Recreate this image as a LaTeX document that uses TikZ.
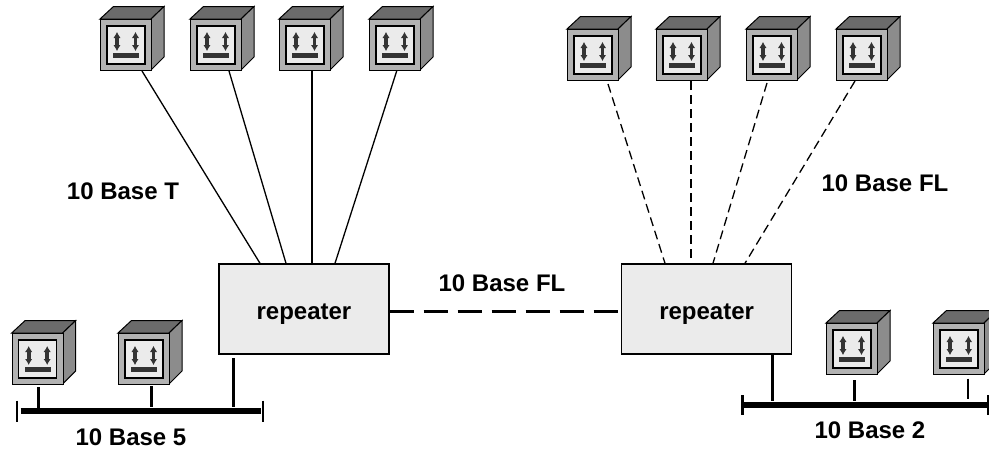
\documentclass[tikz,border=0pt]{standalone}
\usepackage{fontspec}
\setmainfont{Liberation Sans}
\usetikzlibrary{arrows.meta,positioning}
\definecolor{pcfront}{gray}{0.70}
\definecolor{pctop}{gray}{0.42}
\definecolor{pcside}{gray}{0.55}
\definecolor{pcscreen}{gray}{0.92}
\definecolor{pcdark}{gray}{0.20}
\tikzset{
	lbl/.style={font=\fontsize{24}{28}\bfseries\selectfont,inner sep=0pt},
	repeaterbox/.style={draw,line width=1.3pt,fill=pcscreen,minimum width=170pt,minimum height=90pt,inner sep=0pt,text height=22pt,text depth=0pt,font=\fontsize{24}{28}\bfseries\selectfont},
	link/.style={line width=1.3pt},
	fibre/.style={line width=1.3pt,dash pattern=on 9pt off 5pt},
	trunk/.style={line width=2.6pt,dash pattern=on 24pt off 10pt},
	bus/.style={line width=6pt},
	stub/.style={line width=2.5pt},
	updown/.style={{Latex[length=6pt,width=7.5pt]}-{Latex[length=6pt,width=7.5pt]},line width=3.6pt,pcdark},
	pcbox/.pic={
		\draw[line width=1pt,fill=pctop] (0,0) -- (13.5,-12.5) -- (64,-12.5) -- (51,0) -- cycle;
		\draw[line width=1pt,fill=pcside] (51,0) -- (64,-12.5) -- (64,38) -- (51,51) -- cycle;
		\node[draw,line width=1pt,fill=pcfront,minimum size=51pt,inner sep=0pt,anchor=north west] (face) at (0,0) {};
		\draw[line width=1.1pt,fill=pcscreen] (7,7) rectangle (45,45);
		\draw[updown] (17,13) -- (17,32);
		\draw[updown] (35.5,13) -- (35.5,32);
		\fill[pcdark] (13,34) rectangle (39,39);
	}
}
\begin{document}
\begin{tikzpicture}[x=1pt,y=-1pt]
	\useasboundingbox (0,0) rectangle (989,455);
	% computers
	\foreach \n/\x/\y in {a/100/19,b/190/19,c/279/19,d/369/19,e/567/29,f/656/29,g/746/29,h/836/29,i/11.7/333,j/118/333,k/826/323,l/933/323}
		\pic (pc\n) at (\x,\y) {pcbox};
	% repeaters
	\node[repeaterbox,anchor=north west] (repl) at (218.3,263.3) {repeater};
	\node[repeaterbox,anchor=north west] (repr) at (621,263.3) {repeater};
	% twisted pair
	\foreach \n/\s/\e in {a/42/41.7,b/39/67.7,c/33/93.7,d/27.7/116.7}
		\draw[link] ([xshift=\s]pc\n face.south west) -- ([xshift=\e]repl.north west);
	% fibre
	\foreach \n/\s/\g/\e in {e/41/-3/44,f/35/0/70,g/21/-2/92,h/19/0/124}
		\draw[fibre] ([xshift=\s,yshift=\g]pc\n face.south west) -- ([xshift=\e]repr.north west);
	\draw[trunk] ([yshift=-2.7pt]repl.east) -- ([yshift=-2.7pt]repr.west);
	% thin coax
	\coordinate (busal) at (20.7,411);
	\coordinate (busar) at (260.7,411);
	\draw[bus] (busal) -- (busar);
	\foreach \n/\x/\t/\b in {aa/17/400.7/421.7,ab/263/400.7/421.7,ac/38.3/387/411,ad/151.7/386/407,ae/233.7/358/407,ba/742.7/395/415,bb/988/395/415,bc/772.7/354/401,bd/854.5/380/401,be/968/378.6/399}{
		\coordinate (stub\n t) at (\x,\t);
		\coordinate (stub\n b) at (\x,\b);
		\draw[stub] (stub\n t) -- (stub\n b);
	}
	\coordinate (busbl) at (742,405);
	\coordinate (busbr) at (989,405);
	\draw[bus] (busbl) -- (busbr);
	% labels
	\node[lbl] (lblt) at (123,191) {10 Base T};
	\node[lbl] (lblfr) at (885,183) {10 Base FL};
	\node[lbl] (lblfm) at (502,283) {10 Base FL};
	\node[lbl] (lblf) at (131,437) {10 Base 5};
	\node[lbl] (lbltw) at (870,430) {10 Base 2};
\end{tikzpicture}
\end{document}
